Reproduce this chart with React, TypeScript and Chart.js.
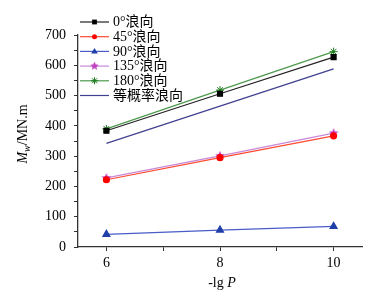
import React, { useEffect, useRef } from "react";
import { Chart, registerables } from "chart.js";
Chart.register(...registerables);

const xValues = [6, 8, 10];
const s0 = [384, 506, 627];
const s45 = [222, 295, 367];
const s90 = [42, 56, 68];
const s135 = [228, 301, 376];
const s180 = [390, 518, 645];
const sEq = [342, 465, 588];
const seriesLabels = ["0°浪向", "45°浪向", "90°浪向", "135°浪向", "180°浪向", "等概率浪向"];
const xTicks = [6, 7, 8, 9, 10];
const yTicks = [0, 50, 100, 150, 200, 250, 300, 350, 400, 450, 500, 550, 600, 650, 700];

const FONT_FAMILY = '"Liberation Serif", "Times New Roman", "Noto Sans CJK SC", serif';
const AXIS_COLOR = "#333";

function makeStar(color: string, size: number) {
  const c = document.createElement("canvas");
  c.width = size;
  c.height = size;
  const ctx = c.getContext("2d")!;
  const cx = size / 2, cy = size / 2, R = size / 2, r = R * 0.45;
  ctx.beginPath();
  for (let i = 0; i < 10; i++) {
    const a = -Math.PI / 2 + (i * Math.PI) / 5;
    const rad = i % 2 === 0 ? R : r;
    const px = cx + rad * Math.cos(a), py = cy + rad * Math.sin(a);
    if (i === 0) ctx.moveTo(px, py); else ctx.lineTo(px, py);
  }
  ctx.closePath();
  ctx.fillStyle = color;
  ctx.fill();
  return c;
}

const toPts = (ys: number[]) => xValues.map((x, i) => ({ x, y: ys[i] }));

export default function App() {
  const ref = useRef<HTMLCanvasElement>(null);
  useEffect(() => {
    const star135 = makeStar("#c040c0", 10);
    const star135Legend = makeStar("#c040c0", 9);
    const datasets: any[] = [
      { label: seriesLabels[0], data: toPts(s0), borderColor: "#222", backgroundColor: "#000", pointStyle: "rect", pointRadius: 3.5, pointBorderColor: "#000", borderWidth: 1.2 },
      { label: seriesLabels[1], data: toPts(s45), borderColor: "#ff4a30", backgroundColor: "#ff0000", pointStyle: "circle", pointRadius: 3, pointBorderColor: "#ff0000", borderWidth: 1.2 },
      { label: seriesLabels[2], data: toPts(s90), borderColor: "#4a5cc8", backgroundColor: "#1f3fa8", pointStyle: "triangle", pointRadius: 4, pointBorderColor: "#1f3fa8", borderWidth: 1.2 },
      { label: seriesLabels[3], data: toPts(s135), borderColor: "#c888d8", backgroundColor: "#c040c0", pointStyle: star135, legendStyle: star135Legend, pointRadius: 4, borderWidth: 1.2 },
      { label: seriesLabels[4], data: toPts(s180), borderColor: "#4c9a4c", backgroundColor: "#1a7a1a", pointStyle: "star", pointRadius: 4, pointBorderColor: "#1a7a1a", pointBorderWidth: 1, borderWidth: 1.2 },
      { label: seriesLabels[5], data: toPts(sEq), borderColor: "#404090", backgroundColor: "#404090", pointRadius: 0, borderWidth: 1.2 },
    ];

    const overlay = {
      id: "overlay",
      afterDraw(chart: any) {
        const ctx = chart.ctx as CanvasRenderingContext2D;
        ctx.save();
        // legend
        const lx0 = 80, lx1 = 109, tx = 113;
        const rowY0 = 22, rowDY = 14.7;
        ctx.font = `14px ${FONT_FAMILY}`;
        ctx.textBaseline = "middle";
        ctx.textAlign = "left";
        datasets.forEach((ds, i) => {
          const y = rowY0 + i * rowDY;
          ctx.strokeStyle = ds.borderColor;
          ctx.lineWidth = 1.2;
          ctx.beginPath();
          ctx.moveTo(lx0, y);
          ctx.lineTo(lx1, y);
          ctx.stroke();
          const mx = (lx0 + lx1) / 2;
          const ps = ds.legendStyle || ds.pointStyle;
          if (ds.pointRadius > 0) {
            if (typeof ps === "string") {
              ctx.fillStyle = ds.backgroundColor;
              ctx.strokeStyle = ds.pointBorderColor || ds.backgroundColor;
              ctx.lineWidth = 1;
              // drawPoint helper from Chart.helpers not imported; draw manually
              const r = ds.pointRadius - 0.5;
              ctx.beginPath();
              if (ps === "rect") {
                ctx.rect(mx - r * 0.8, y - r * 0.8, r * 1.6, r * 1.6);
                ctx.fill();
              } else if (ps === "circle") {
                ctx.arc(mx, y, r, 0, Math.PI * 2);
                ctx.fill();
              } else if (ps === "triangle") {
                ctx.moveTo(mx, y - r);
                ctx.lineTo(mx + r * 0.95, y + r * 0.6);
                ctx.lineTo(mx - r * 0.95, y + r * 0.6);
                ctx.closePath();
                ctx.fill();
              } else if (ps === "star") {
                for (let k = 0; k < 4; k++) {
                  const a = (k * Math.PI) / 4;
                  ctx.moveTo(mx - r * Math.cos(a), y - r * Math.sin(a));
                  ctx.lineTo(mx + r * Math.cos(a), y + r * Math.sin(a));
                }
                ctx.stroke();
              }
            } else {
              ctx.drawImage(ps, mx - ps.width / 2, y - ps.height / 2);
            }
          }
          ctx.fillStyle = "#000";
          ctx.fillText(ds.label, tx, y + 0.5);
        });

        // y axis title
        ctx.save();
        ctx.translate(22, 134);
        ctx.rotate(-Math.PI / 2);
        const fMain = `italic 14px ${FONT_FAMILY}`;
        const fSub = `italic 10px ${FONT_FAMILY}`;
        const fReg = `14px ${FONT_FAMILY}`;
        ctx.font = fMain; const wM = ctx.measureText("M").width;
        ctx.font = fSub; const wW = ctx.measureText("w").width;
        ctx.font = fReg; const wR = ctx.measureText("/MN.m").width;
        const total = wM + wW + wR;
        let cx = -total / 2;
        ctx.textAlign = "left";
        ctx.textBaseline = "alphabetic";
        ctx.fillStyle = "#000";
        ctx.font = fMain; ctx.fillText("M", cx, 5); cx += wM;
        ctx.font = fSub; ctx.fillText("w", cx, 8); cx += wW;
        ctx.font = fReg; ctx.fillText("/MN.m", cx, 5);
        ctx.restore();

        // x axis title
        ctx.font = fReg; const wA = ctx.measureText("-lg ").width;
        ctx.font = fMain; const wP = ctx.measureText("P").width;
        let xx = 222 - (wA + wP) / 2;
        ctx.textAlign = "left";
        ctx.textBaseline = "middle";
        ctx.fillStyle = "#000";
        ctx.font = fReg; ctx.fillText("-lg ", xx, 283); xx += wA;
        ctx.font = fMain; ctx.fillText("P", xx, 283);
        ctx.restore();
      },
    };

    const chart = new Chart(ref.current!, {
      type: "line",
      data: { datasets },
      options: {
        animation: false,
        responsive: false,
        maintainAspectRatio: false,
        layout: { padding: { left: 0, top: 35, right: 19, bottom: 0 } },
        plugins: { legend: { display: false }, tooltip: { enabled: false } },
        elements: { line: { tension: 0 } },
        scales: {
          x: {
            type: "linear",
            min: 5.5,
            max: 10.5,
            afterBuildTicks: (s: any) => { s.ticks = xTicks.map((v) => ({ value: v })); },
            afterFit: (s: any) => { s.height = 52; },
            ticks: {
              autoSkip: false,
              maxRotation: 0,
              padding: 4,
              color: "#000",
              font: { family: FONT_FAMILY, size: 14 },
              callback: (v: any) => (Number(v) % 2 === 0 ? String(v) : ""),
            },
            grid: { drawOnChartArea: false, tickLength: 4, color: AXIS_COLOR },
            border: { color: AXIS_COLOR, width: 1.3 },
          },
          y: {
            type: "linear",
            min: 0,
            max: 700,
            afterBuildTicks: (s: any) => { s.ticks = yTicks.map((v) => ({ value: v })); },
            afterFit: (s: any) => { s.width = 78; },
            ticks: {
              autoSkip: false,
              padding: 8,
              color: "#000",
              font: { family: FONT_FAMILY, size: 14 },
              callback: (v: any) => (Number(v) % 100 === 0 ? String(v) : ""),
            },
            grid: { drawOnChartArea: false, tickLength: 4, color: AXIS_COLOR },
            border: { color: AXIS_COLOR, width: 1.3 },
          },
        },
      } as any,
      plugins: [overlay],
    });
    return () => chart.destroy();
  }, []);

  return (
    <div style={{ position: "absolute", left: 0, top: 0, width: 381, height: 299, background: "#fff" }}>
      <canvas ref={ref} width={381} height={299} style={{ width: 381, height: 299 }} />
    </div>
  );
}
